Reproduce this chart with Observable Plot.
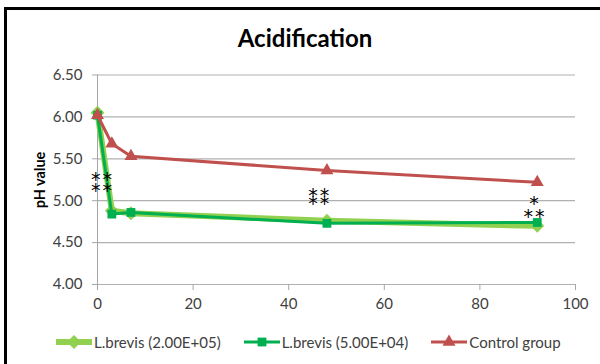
<!DOCTYPE html>
<html>
<head>
<meta charset="utf-8">
<script src="https://cdn.jsdelivr.net/npm/d3@7"></script>
<script src="https://cdn.jsdelivr.net/npm/@observablehq/plot@0.6"></script>
<style>
  html, body { margin: 0; padding: 0; background: #fff; }
  #wrap { position: relative; width: 600px; height: 364px; overflow: hidden; font-family: Lato, "Open Sans", sans-serif; }
  #frame { position: absolute; left: 4px; top: 7px; width: 700px; height: 500px; border-left: 3px solid #000; border-top: 3px solid #000; box-sizing: border-box; }
  #title { position: absolute; left: 0; width: 610px; top: 24px; text-align: center; font-weight: bold; font-size: 24px; color: #000; line-height: 28px; }
  #chart { position: absolute; left: 0; top: 0; }
  #chart g[font-family="DejaVu Sans"] text { letter-spacing: 2px; }
  #ylabel { position: absolute; left: 39px; top: 180px; transform: translate(-50%, -50%) rotate(-90deg); font-weight: bold; font-size: 14.5px; white-space: nowrap; color: #000; }
  #legend { position: absolute; left: 56px; top: 333px; display: flex; gap: 23px; font-size: 15px; color: #404040; align-items: center; }
  .item { display: flex; align-items: center; }
  .item svg { margin-right: 2px; }
</style>
</head>
<body>
<div id="wrap">
  <div id="frame"></div>
  <div id="chart"></div>
  <div id="title">Acidification</div>
  <div id="ylabel">pH value</div>
  <div id="legend"></div>
</div>
<script>
// ---- data ----
const hours = [0, 3, 7, 48, 92];
const seriesNames = ["L.brevis (2.00E+05)", "L.brevis (5.00E+04)", "Control group"];
const brevisHigh = [6.05, 4.88, 4.85, 4.76, 4.70];
const brevisLow = [6.02, 4.84, 4.86, 4.73, 4.74];
const control = [6.02, 5.68, 5.53, 5.36, 5.22];
const yTicks = [4.0, 4.5, 5.0, 5.5, 6.0, 6.5];
const xTicks = [0, 20, 40, 60, 80, 100];
const starLabels = ["**", "**", "**", "**", "*", "**"];
const starX = [0.85, 0.85, 46.3, 46.3, 91.3, 91.3];
const starY = [5.30, 5.16, 5.11, 5.01, 5.01, 4.86];

const colors = ["#92D050", "#00B050", "#C0504D"];
const symbols = ["diamond2", "square2", "triangle2"];
const radii = [6.3, 5.6, 6.2];
const widths = [6, 3, 3];

const valuesBySeries = [brevisHigh, brevisLow, control];
const rows = valuesBySeries.flatMap((vals, s) => vals.map((v, i) => ({series: seriesNames[s], s, x: hours[i], y: v})));
const stars = starLabels.map((t, i) => ({t, x: starX[i], y: starY[i]}));

const marks = [
  Plot.gridY(yTicks, {stroke: "#b0b0b0", strokeOpacity: 1, strokeWidth: 1.2}),
  Plot.ruleX([0], {stroke: "#a6a6a6", strokeWidth: 1}),
  Plot.ruleY([4], {stroke: "#b0b0b0", strokeWidth: 1.2}),
  Plot.axisY({ticks: yTicks, tickFormat: d => d.toFixed(2), tickSize: 5, tickPadding: 10, stroke: "#a6a6a6", fill: "#404040", fontSize: 15, label: null}),
  Plot.axisX({ticks: xTicks, tickSize: 6, tickPadding: 8, stroke: "#a6a6a6", fill: "#404040", fontSize: 15, label: null})
];
valuesBySeries.forEach((_, s) => {
  const d = rows.filter(r => r.s === s);
  marks.push(Plot.line(d, {x: "x", y: "y", stroke: colors[s], strokeWidth: widths[s], curve: "linear"}));
  marks.push(Plot.dot(d, {x: "x", y: "y", symbol: symbols[s], r: radii[s], fill: colors[s], stroke: "none"}));
});
marks.push(Plot.text(stars, {x: "x", y: "y", text: "t", fontSize: 19, fill: "#000", dy: 4, dx: 1, fontFamily: "DejaVu Sans"}));

const chart = Plot.plot({
  width: 600,
  height: 364,
  marginLeft: 97,
  marginRight: 25,
  marginTop: 74.5,
  marginBottom: 80,
  x: {domain: [0, 100], label: null},
  y: {domain: [4, 6.5], label: null},
  style: {fontFamily: "Lato, sans-serif", background: "transparent", overflow: "visible"},
  marks
});
document.getElementById("chart").appendChild(chart);

// legend
const legend = document.getElementById("legend");
seriesNames.forEach((name, s) => {
  const item = document.createElement("div");
  item.className = "item";
  const w = 36, h = 18;
  const sym = d3.symbol(s === 0 ? d3.symbolDiamond2 : s === 1 ? d3.symbolSquare2 : d3.symbolTriangle2, Math.PI * radii[s] * radii[s])();
  item.innerHTML = `<svg width="${w}" height="${h}"><line x1="0" x2="${w}" y1="${h/2}" y2="${h/2}" stroke="${colors[s]}" stroke-width="${widths[s]}"/><path transform="translate(${w/2},${h/2})" d="${sym}" fill="${colors[s]}"/></svg><span>${name}</span>`;
  legend.appendChild(item);
});
</script>
</body>
</html>
